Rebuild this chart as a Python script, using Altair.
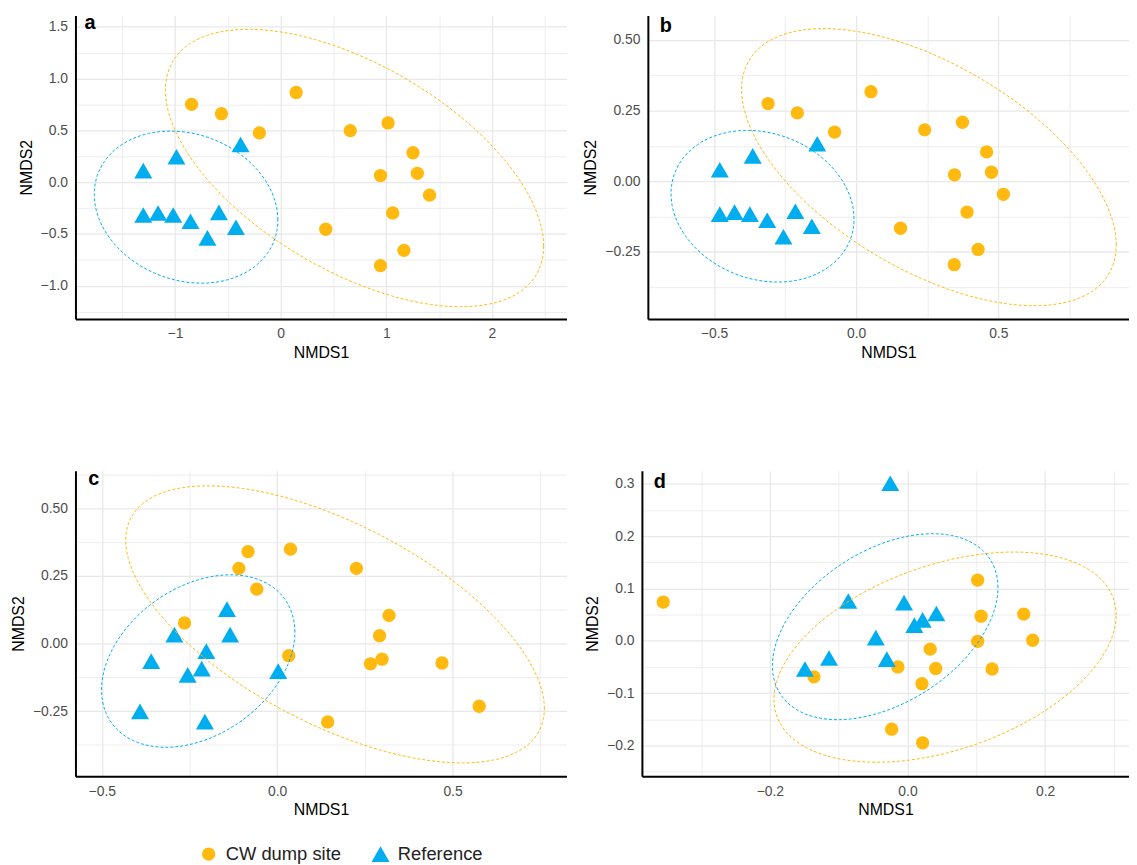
import numpy as np
import pandas as pd
import altair as alt

GROUPS = ["CW dump site", "Reference"]
COLORS = ["#FFB90F", "#00AEEF"]
SHAPES = ["circle", "triangle-up"]
TAGS = ["a", "b", "c", "d"]

# ---- Panel a ----
a_cw_x = [-0.843, -0.560, -0.201, 0.147, 0.659, 1.017, 1.253, 0.945, 1.294, 1.410, 1.061, 0.427, 1.167, 0.945]
a_cw_y = [0.751, 0.661, 0.476, 0.866, 0.498, 0.572, 0.284, 0.064, 0.086, -0.125, -0.297, -0.454, -0.658, -0.805]
a_ref_x = [-1.300, -0.986, -0.379, -1.300, -1.160, -1.017, -0.853, -0.584, -0.423, -0.693]
a_ref_y = [0.112, 0.246, 0.364, -0.316, -0.297, -0.316, -0.377, -0.291, -0.435, -0.537]

# ---- Panel b ----
b_cw_x = [-0.310, -0.207, -0.076, 0.052, 0.241, 0.374, 0.459, 0.346, 0.476, 0.518, 0.390, 0.156, 0.429, 0.345]
b_cw_y = [0.275, 0.242, 0.174, 0.317, 0.182, 0.209, 0.104, 0.023, 0.032, -0.046, -0.109, -0.166, -0.241, -0.295]
b_ref_x = [-0.480, -0.364, -0.137, -0.480, -0.428, -0.374, -0.313, -0.214, -0.156, -0.256]
b_ref_y = [0.041, 0.090, 0.133, -0.116, -0.109, -0.116, -0.138, -0.106, -0.159, -0.196]

# ---- Panel c ----
c_cw_x = [-0.083, 0.038, -0.109, 0.226, -0.058, -0.264, 0.319, 0.292, 0.033, 0.266, 0.299, 0.470, 0.576, 0.144]
c_cw_y = [0.340, 0.349, 0.278, 0.278, 0.201, 0.076, 0.104, 0.029, -0.045, -0.075, -0.058, -0.072, -0.232, -0.290]
c_ref_x = [-0.143, -0.293, -0.134, -0.202, -0.359, -0.215, -0.255, 0.003, -0.391, -0.206]
c_ref_y = [0.127, 0.033, 0.033, -0.028, -0.065, -0.093, -0.116, -0.102, -0.251, -0.289]

# ---- Panel d ----
d_cw_x = [-0.355, 0.102, 0.107, 0.169, 0.102, 0.182, 0.033, -0.014, 0.041, 0.123, -0.136, 0.021, -0.023, 0.022]
d_cw_y = [0.074, 0.116, 0.047, 0.051, -0.001, 0.001, -0.016, -0.050, -0.053, -0.054, -0.069, -0.082, -0.169, -0.195]
d_ref_x = [-0.025, -0.086, -0.005, 0.042, 0.022, 0.010, -0.046, -0.114, -0.030, -0.149]
d_ref_y = [0.301, 0.076, 0.073, 0.052, 0.040, 0.030, 0.006, -0.033, -0.035, -0.054]


def cov_trob(pts, nu=5, maxit=25, tol=0.01):
    """Robust multivariate-t covariance (as MASS::cov.trob)."""
    n, p = pts.shape
    loc = pts.mean(axis=0)
    w = np.ones(n)
    X = pts - loc
    for _ in range(maxit):
        w0 = w
        X = pts - loc
        sw = np.sqrt(w / w.sum())
        _, d, vt = np.linalg.svd(sw[:, None] * X, full_matrices=False)
        wX = X @ vt.T @ np.diag(1.0 / d)
        Q = (wX ** 2).sum(axis=1)
        w = (nu + p) / (nu + Q)
        loc = (w[:, None] * pts).sum(axis=0) / w.sum()
        if np.all(np.abs(w - w0) < tol):
            break
    sX = np.sqrt(w)[:, None] * X
    return loc, sX.T @ sX / n


def stat_ellipse(xs, ys, level=0.95, segments=120):
    """95% t-ellipse as computed by ggplot2::stat_ellipse."""
    pts = np.column_stack([xs, ys])
    center, shape = cov_trob(pts)
    upper = np.linalg.cholesky(shape).T
    dfd = len(xs) - 1
    fq = dfd / 2.0 * ((1 - level) ** (-2.0 / dfd) - 1)
    radius = np.sqrt(2 * fq)
    ang = np.linspace(0, 2 * np.pi, segments + 1)
    circ = np.column_stack([np.cos(ang), np.sin(ang)])
    return center + radius * circ @ upper


def grid_values(dom, major):
    step = major / 2.0
    k0 = int(np.ceil(dom[0] / step - 1e-9))
    k1 = int(np.floor(dom[1] / step + 1e-9))
    return [round(k * step, 6) for k in range(k0, k1 + 1)]


def major_test(major):
    return f"abs(datum.value / {major} - round(datum.value / {major})) < 1e-6"


LEGEND = dict(
    title=None, orient="none", direction="horizontal", legendX=125, legendY=836,
    labelFontSize=18.5, labelColor="#222222", labelOffset=8, columnPadding=30,
    symbolStrokeWidth=0, labelFont="Liberation Sans",
)


def make_panel(tag, tag_x, tag_y, cw_x, cw_y, ref_x, ref_y, xdom, ydom, xmajor, ymajor, xfmt, yfmt, w, h):
    pts = pd.DataFrame({
        "x": cw_x + ref_x,
        "y": cw_y + ref_y,
        "group": [GROUPS[0]] * len(cw_x) + [GROUPS[1]] * len(ref_x),
    })
    rows = []
    for g, xs, ys in [(GROUPS[0], cw_x, cw_y), (GROUPS[1], ref_x, ref_y)]:
        e = stat_ellipse(np.array(xs), np.array(ys))
        for i, (ex, ey) in enumerate(e):
            rows.append({"x": ex, "y": ey, "group": g, "i": i})
    ell = pd.DataFrame(rows)

    xaxis = alt.Axis(
        title="NMDS1", values=grid_values(xdom, xmajor), format=xfmt,
        labelExpr=f"{major_test(xmajor)} ? datum.label : ''",
        gridWidth={"condition": {"test": major_test(xmajor), "value": 1.3}, "value": 0.8},
        labelPadding=8, titlePadding=4,
    )
    yaxis = alt.Axis(
        title="NMDS2", values=grid_values(ydom, ymajor), format=yfmt,
        labelExpr=f"{major_test(ymajor)} ? datum.label : ''",
        gridWidth={"condition": {"test": major_test(ymajor), "value": 1.3}, "value": 0.8},
        labelPadding=8, titlePadding=6,
    )
    xs = alt.Scale(domain=list(xdom), nice=False, zero=False)
    ys = alt.Scale(domain=list(ydom), nice=False, zero=False)

    points = alt.Chart(pts).mark_point(filled=True, opacity=1, strokeWidth=0).encode(
        x=alt.X("x:Q", scale=xs, axis=xaxis),
        y=alt.Y("y:Q", scale=ys, axis=yaxis),
        color=alt.Color("group:N", scale=alt.Scale(domain=GROUPS, range=COLORS), legend=alt.Legend(**LEGEND)),
        shape=alt.Shape("group:N", scale=alt.Scale(domain=GROUPS, range=SHAPES), legend=alt.Legend(**LEGEND)),
        size=alt.Size("group:N", scale=alt.Scale(domain=GROUPS, range=[180, 330]), legend=alt.Legend(**LEGEND)),
    )
    ellipses = alt.Chart(ell).mark_line(strokeDash=[3, 2], strokeWidth=1, clip=True).encode(
        x=alt.X("x:Q", scale=xs, axis=xaxis),
        y=alt.Y("y:Q", scale=ys, axis=yaxis),
        stroke=alt.Stroke("group:N", scale=alt.Scale(domain=GROUPS, range=COLORS), legend=None),
        detail="group:N",
        order="i:Q",
    )
    label = alt.Chart(pd.DataFrame({"tag": [tag]})).mark_text(
        align="left", baseline="alphabetic", fontSize=20, fontWeight="bold", color="black"
    ).encode(x=alt.value(tag_x), y=alt.value(tag_y), text="tag:N")
    return alt.layer(points, ellipses, label).properties(width=w, height=h)


pa = make_panel(TAGS[0], 9, 14, a_cw_x, a_cw_y, a_ref_x, a_ref_y, (-1.942, 2.706), (-1.32, 1.61), 1.0, 0.5, ".0f", ".1f", 495, 306)
pb = make_panel(TAGS[1], 12, 17, b_cw_x, b_cw_y, b_ref_x, b_ref_y, (-0.733, 0.96), (-0.487, 0.587), 0.5, 0.25, ".1f", ".2f", 485, 306)
pc = make_panel(TAGS[2], 13, 14, c_cw_x, c_cw_y, c_ref_x, c_ref_y, (-0.575, 0.825), (-0.491, 0.639), 0.5, 0.25, ".1f", ".2f", 495, 308)
pd_ = make_panel(TAGS[3], 12, 17, d_cw_x, d_cw_y, d_ref_x, d_ref_y, (-0.386, 0.322), (-0.259, 0.325), 0.2, 0.1, ".1f", ".1f", 491, 308)

res = dict(x="independent", y="independent", color="shared", shape="shared", size="shared", stroke="shared")
row1 = alt.hconcat(pa, pb, spacing=16).resolve_scale(**res)
row2 = alt.hconcat(pc, pd_, spacing=18).resolve_scale(**res)

chart = alt.vconcat(row1, row2, spacing=107).resolve_scale(**res).properties(
    padding={"left": 2, "top": 2, "right": 0, "bottom": 0}
).configure(
    font="Liberation Sans"
).configure_view(
    stroke=None
).configure_axis(
    domainColor="black", domainWidth=2, ticks=False, tickSize=0,
    gridColor="#E8E8E8", labelColor="#4D4D4D", labelFontSize=14,
    titleColor="black", titleFontSize=16, titleFontWeight="normal",
    labelOverlap=False, labelFlush=False,
)

chart.save("out.html", embed_options={"renderer": "svg", "actions": False})
